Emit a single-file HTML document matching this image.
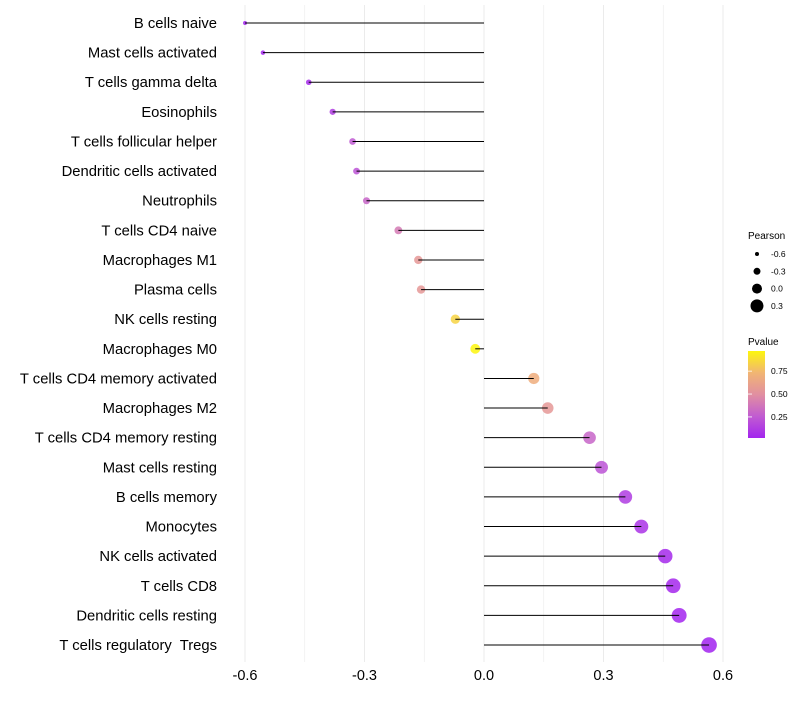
<!DOCTYPE html>
<html><head><meta charset="utf-8"><style>
body{margin:0;background:#fff;font-family:"Liberation Sans",sans-serif}
</style></head><body>
<svg id="c" width="800" height="700" xmlns="http://www.w3.org/2000/svg"></svg>
<script>
const categories=["B cells naive","Mast cells activated","T cells gamma delta","Eosinophils","T cells follicular helper","Dendritic cells activated","Neutrophils","T cells CD4 naive","Macrophages M1","Plasma cells","NK cells resting","Macrophages M0","T cells CD4 memory activated","Macrophages M2","T cells CD4 memory resting","Mast cells resting","B cells memory","Monocytes","NK cells activated","T cells CD8","Dendritic cells resting","T cells regulatory  Tregs"];
const pearson=[-0.60,-0.555,-0.44,-0.38,-0.33,-0.32,-0.295,-0.215,-0.165,-0.158,-0.072,-0.022,0.125,0.16,0.265,0.295,0.355,0.395,0.455,0.475,0.49,0.565];
const pvalue=[0.01,0.02,0.05,0.12,0.25,0.22,0.3,0.4,0.55,0.55,0.85,0.97,0.68,0.55,0.3,0.22,0.12,0.08,0.04,0.03,0.02,0.01];
const xTicks=[-0.6,-0.3,0.0,0.3,0.6];
const xTickLabels=["-0.6","-0.3","0.0","0.3","0.6"];
const sizeLegend=[-0.6,-0.3,0.0,0.3];
const pTicks=[0.25,0.5,0.75];
const NS="http://www.w3.org/2000/svg";
const svg=document.getElementById("c");
const x=v=>484+v*398.3;
const y=i=>23+i*29.62;
const r=v=>Math.max(1.5,5+5*v);
const stops=[[0,[160,32,240]],[0.25,[192,90,210]],[0.5,[226,144,160]],[0.75,[242,184,112]],[1,[255,255,0]]];
function col(p){for(let k=1;k<stops.length;k++){if(p<=stops[k][0]||k==stops.length-1){const [a0,a]=stops[k-1],[b0,b]=stops[k];const t=Math.min(1,Math.max(0,(p-a0)/(b0-a0)));return`rgb(${a.map((c,i)=>Math.round(c+(b[i]-c)*t))})`;}}}
function el(t,a,txt){const e=document.createElementNS(NS,t);for(const k in a)e.setAttribute(k,a[k]);if(txt!=null)e.textContent=txt;svg.appendChild(e);return e;}
[-0.6,-0.45,-0.3,-0.15,0,0.15,0.3,0.45,0.6].forEach(v=>{
 const g=el("line",{x1:x(v),x2:x(v),y1:5,y2:662,stroke:"#ebebeb","stroke-width":Math.abs(v*20)%2<0.01?1:0.6});
 
 
});
xTicks.forEach((v,i)=>{
 const t=el("text",{x:x(v),y:680,"text-anchor":"middle","font-size":14.5,fill:"#000"},xTickLabels[i]);
 
 
});
categories.forEach((c,i)=>{
 const t=el("text",{x:217,y:y(i)+5,"text-anchor":"end","font-size":14.8,fill:"#000","xml:space":"preserve",style:"white-space:pre"},c);
 
 
 const d=el("circle",{cx:x(pearson[i]),cy:y(i),r:r(pearson[i]),fill:col(pvalue[i]),"fill-opacity":0.85});
 
 
 const l=el("line",{x1:x(0),x2:x(pearson[i]),y1:y(i),y2:y(i),stroke:"#000","stroke-width":1});
 
 
});
let t=el("text",{x:748,y:239,"font-size":10},"Pearson");


sizeLegend.forEach((v,i)=>{
 const cy=254+i*17.3;
 const c=el("circle",{cx:757,cy:cy,r:r(v),fill:"#000"});
 
 
 const tt=el("text",{x:771,y:cy+3,"font-size":8.5},v.toFixed(1));
 
 
});
t=el("text",{x:748,y:345,"font-size":10},"Pvalue");


const defs=el("defs",{});
const lg=document.createElementNS(NS,"linearGradient");lg.setAttribute("id","pg");lg.setAttribute("x1","0");lg.setAttribute("y1","1");lg.setAttribute("x2","0");lg.setAttribute("y2","0");
[0,0.25,0.5,0.75,1].forEach(o=>{const p=0.02+o*0.95;const s=document.createElementNS(NS,"stop");s.setAttribute("offset",o);s.setAttribute("stop-color",col(p));lg.appendChild(s);});
defs.appendChild(lg);
const cb=el("rect",{x:748,y:351,width:17,height:87,fill:"url(#pg)"});


const pY=p=>438-(p-0.02)/0.95*87;
pTicks.forEach(p=>{
 const tk=el("line",{x1:748,x2:752,y1:pY(p),y2:pY(p),stroke:"#fff","stroke-width":0.8});
 
 
 const tt=el("text",{x:771,y:pY(p)+3,"font-size":8.5},p.toFixed(2));
 
 
});
</script>
</body></html>
